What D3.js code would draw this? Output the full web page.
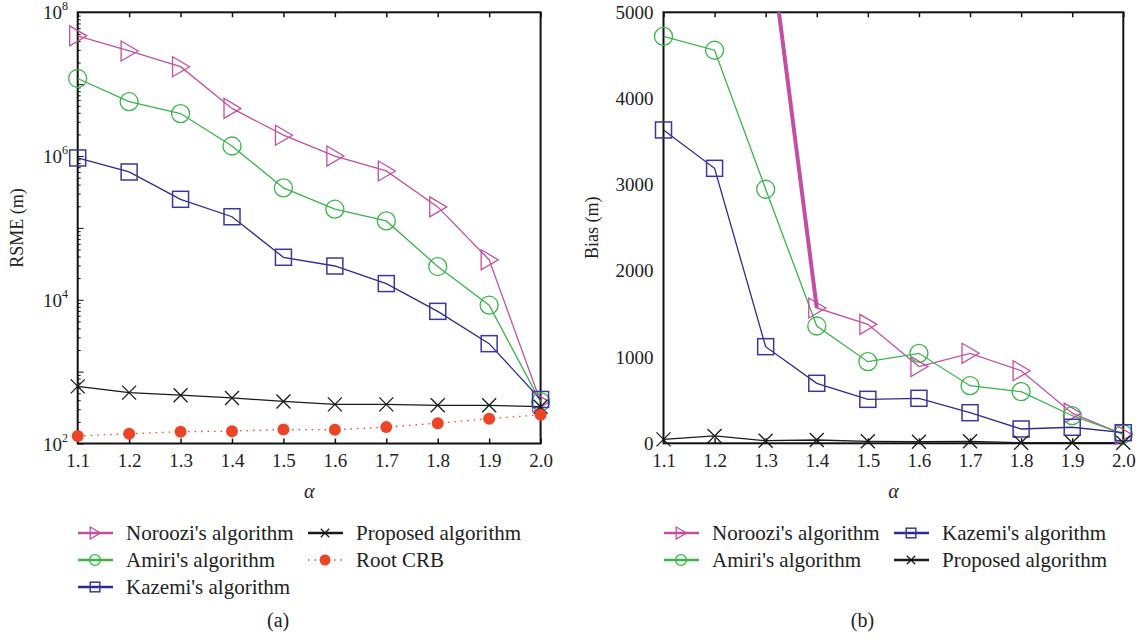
<!DOCTYPE html>
<html>
<head>
<meta charset="utf-8">
<script src="https://cdn.jsdelivr.net/npm/d3@7"></script>
<style>
  body { margin: 0; background: #fff; }
  svg { font-family: "Liberation Serif", "DejaVu Serif", serif; }
</style>
</head>
<body>
<svg id="chart" width="1143" height="641"></svg>
<script>
// alpha values on the x axis
var alphas = [1.1, 1.2, 1.3, 1.4, 1.5, 1.6, 1.7, 1.8, 1.9, 2.0];
var xTickLabels = ["1.1", "1.2", "1.3", "1.4", "1.5", "1.6", "1.7", "1.8", "1.9", "2.0"];

// (a) RSME (m), log scale
var rsmeNoroozi = [4.7e7, 2.9e7, 1.75e7, 4.6e6, 1.95e6, 1.0e6, 6.2e5, 1.96e5, 3.6e4, 380];
var rsmeAmiri = [1.2e7, 5.7e6, 3.9e6, 1.38e6, 3.6e5, 1.82e5, 1.25e5, 2.9e4, 8.4e3, 380];
var rsmeKazemi = [9.4e5, 6.0e5, 2.5e5, 1.43e5, 3.9e4, 2.95e4, 1.68e4, 6.9e3, 2.45e3, 410];
var rsmeProposed = [624, 510, 470, 430, 385, 350, 350, 340, 340, 325];
var rootCRB = [127, 137, 146, 148, 157, 155, 169, 192, 221, 251];
var rsmeTickValues = [1e2, 1e4, 1e6, 1e8];
var rsmeTickExps = ["2", "4", "6", "8"];

// (b) Bias (m)
var biasNoroozi = [8500, 7400, 6200, 1570, 1380, 890, 1044, 842, 350, 100];
var biasAmiri = [4720, 4560, 2947, 1361, 947, 1044, 668, 599, 320, 108];
var biasKazemi = [3635, 3190, 1121, 696, 510, 522, 355, 166, 186, 123];
var biasProposed = [46, 85, 30, 38, 23, 18, 23, 7, 7, 7];
var biasTickValues = [0, 1000, 2000, 3000, 4000, 5000];

var colors = { noroozi: "#c24fa3", amiri: "#39b54a", kazemi: "#2f2b8e", proposed: "#1a1a1a", crb: "#ec4427" };

var svg = d3.select("#chart");

var symTri = d3.symbol().type({
  draw: function (ctx, size) {
    ctx.moveTo(-8, -10); ctx.lineTo(9, 0); ctx.lineTo(-8, 10); ctx.closePath();
  }
});
var symX = d3.symbol().type({
  draw: function (ctx, size) {
    ctx.moveTo(-7, -7); ctx.lineTo(7, 7); ctx.moveTo(-7, 7); ctx.lineTo(7, -7);
  }
});

function drawMarker(g, kind, px, py, small) {
  var k = small ? 0.6 : 1;
  if (kind === "tri") {
    g.append("path").attr("d", symTri()).attr("transform", "translate(" + px + "," + py + ") scale(" + k + ")")
      .attr("fill", "none").attr("stroke", colors.noroozi).attr("stroke-width", 1.3 / k);
  } else if (kind === "circle") {
    g.append("circle").attr("cx", px).attr("cy", py).attr("r", 9 * k)
      .attr("fill", "none").attr("stroke", colors.amiri).attr("stroke-width", 1.3);
  } else if (kind === "square") {
    var s = 16 * k;
    g.append("rect").attr("x", px - s / 2).attr("y", py - s / 2).attr("width", s).attr("height", s)
      .attr("fill", "none").attr("stroke", "#3b37a0").attr("stroke-width", 1.5);
  } else if (kind === "x") {
    g.append("path").attr("d", symX()).attr("transform", "translate(" + px + "," + py + ") scale(" + k + ")")
      .attr("fill", "none").attr("stroke", colors.proposed).attr("stroke-width", 1.3 / k);
  } else if (kind === "dot") {
    g.append("circle").attr("cx", px).attr("cy", py).attr("r", small ? 5.5 : 6)
      .attr("fill", colors.crb);
  }
}

function drawPanel(cfg) {
  var g = svg.append("g");
  var x = d3.scaleLinear().domain([1.1, 2.0]).range([cfg.left, cfg.right]);
  var y = cfg.y;

  var clipId = "clip-" + cfg.id;
  svg.append("clipPath").attr("id", clipId).append("rect")
    .attr("x", cfg.left).attr("y", cfg.top).attr("width", cfg.right - cfg.left).attr("height", cfg.bottom - cfg.top);

  // frame
  g.append("rect").attr("x", cfg.left).attr("y", cfg.top)
    .attr("width", cfg.right - cfg.left).attr("height", cfg.bottom - cfg.top)
    .attr("fill", "none").attr("stroke", "#111").attr("stroke-width", 2);

  // bottom axis, inward ticks
  var xAxis = g.append("g").attr("transform", "translate(0," + cfg.bottom + ")")
    .call(d3.axisBottom(x).tickValues(alphas).tickSize(-5).tickPadding(10)
      .tickFormat(function (d, i) { return xTickLabels[i]; }));
  xAxis.select(".domain").remove();
  xAxis.selectAll("line").attr("stroke", "#111").attr("stroke-width", 1.5);
  xAxis.selectAll("text").attr("font-size", 19).attr("fill", "#222").attr("font-family", "Liberation Serif");

  // top ticks
  var topAxis = g.append("g").attr("transform", "translate(0," + cfg.top + ")")
    .call(d3.axisTop(x).tickValues(alphas).tickSize(-5).tickFormat(""));
  topAxis.select(".domain").remove();
  topAxis.selectAll("line").attr("stroke", "#111").attr("stroke-width", 1.5);

  cfg.yAxis(g, x, y);

  var lines = g.append("g").attr("clip-path", "url(#" + clipId + ")");
  var line = d3.line().x(function (d, i) { return x(alphas[i]); }).y(function (d) { return y(d); });

  cfg.series.forEach(function (s) {
    lines.append("path").attr("d", line(s.values)).attr("fill", "none")
      .attr("stroke", s.color).attr("stroke-width", 1.3)
      .attr("stroke-dasharray", s.dash || null);
    if (s.thick) {
      lines.append("path").attr("d", line(s.values.slice(0, s.thick))).attr("fill", "none")
        .attr("stroke", s.color).attr("stroke-width", 4);
    }
  });
  var marks = g.append("g");
  cfg.series.forEach(function (s) {
    s.values.forEach(function (v, i) {
      var py = y(v);
      if (py < cfg.top - 1) return;
      drawMarker(marks, s.marker, x(alphas[i]), py, false);
    });
  });

  // axis titles
  g.append("text").attr("transform", "translate(" + cfg.yTitleX + "," + ((cfg.top + cfg.bottom) / 2) + ") rotate(-90)")
    .attr("text-anchor", "middle").attr("font-size", 18).attr("fill", "#222").text(cfg.yTitle);
  g.append("text").attr("x", (cfg.left + cfg.right) / 2).attr("y", 498)
    .attr("text-anchor", "middle").attr("font-size", 20).attr("font-style", "italic").attr("fill", "#222").text("α");

  // legend
  cfg.legend.forEach(function (item) {
    var lg = svg.append("g");
    lg.append("line").attr("x1", item.x).attr("x2", item.x + 35).attr("y1", item.y).attr("y2", item.y)
      .attr("stroke", item.s.color).attr("stroke-width", item.s.dash ? 1.3 : 2.6)
      .attr("stroke-dasharray", item.s.dash || null);
    drawMarker(lg, item.s.marker, item.x + 17, item.y, true);
    lg.append("text").attr("x", item.x + 48).attr("y", item.y + 7).attr("font-size", 21).attr("fill", "#222").text(item.s.name);
  });

  svg.append("text").attr("x", (cfg.left + cfg.right) / 2 - 31).attr("y", 627)
    .attr("text-anchor", "middle").attr("font-size", 20).attr("fill", "#222").text(cfg.caption);
}

var sNoroozi = { name: "Noroozi's algorithm", color: colors.noroozi, marker: "tri" };
var sAmiri = { name: "Amiri's algorithm", color: colors.amiri, marker: "circle" };
var sKazemi = { name: "Kazemi's algorithm", color: colors.kazemi, marker: "square" };
var sProposed = { name: "Proposed algorithm", color: colors.proposed, marker: "x" };
var sCRB = { name: "Root CRB", color: colors.crb, marker: "dot", dash: "1.5,5" };

// (a)
var yLog = d3.scaleLog().domain([1e2, 1e8]).range([443.5, 12.3]);
drawPanel({
  id: "a", left: 77.7, right: 540.6, top: 12.3, bottom: 443.5, y: yLog,
  yTitle: "RSME (m)", yTitleX: 23, caption: "(a)",
  yAxis: function (g, x, y) {
    var minor = [];
    for (var e = 2; e < 8; e++) for (var m = 1; m < 10; m++) minor.push(m * Math.pow(10, e));
    var ax = g.append("g").attr("transform", "translate(77.7,0)")
      .call(d3.axisRight(y).tickValues(minor).tickSize(3).tickFormat(""));
    ax.select(".domain").remove();
    ax.selectAll("line").attr("stroke", "#111").attr("stroke-width", 1)
      .attr("x2", function (d) { return Math.abs(Math.log10(d) % 1) < 1e-9 ? 6 : 3; });
    var lab = g.append("g");
    rsmeTickValues.forEach(function (v, i) {
      var t = lab.append("text").attr("x", 68).attr("y", y(v) + 7).attr("text-anchor", "end")
        .attr("font-size", 19).attr("fill", "#222");
      t.append("tspan").text("10");
      t.append("tspan").attr("font-size", 12).attr("dy", -9).text(rsmeTickExps[i]);
    });
  },
  series: [
    Object.assign({ values: rsmeNoroozi }, sNoroozi),
    Object.assign({ values: rsmeAmiri }, sAmiri),
    Object.assign({ values: rsmeKazemi }, sKazemi),
    Object.assign({ values: rsmeProposed }, sProposed),
    Object.assign({ values: rootCRB }, sCRB)
  ],
  legend: [
    { x: 78, y: 533, s: sNoroozi },
    { x: 78, y: 560, s: sAmiri },
    { x: 78, y: 587, s: sKazemi },
    { x: 308, y: 533, s: sProposed },
    { x: 308, y: 560, s: sCRB }
  ]
});

// (b)
var yLin = d3.scaleLinear().domain([0, 5000]).range([443.3, 12.3]);
drawPanel({
  id: "b", left: 663.5, right: 1123.3, top: 12.3, bottom: 443.3, y: yLin,
  yTitle: "Bias (m)", yTitleX: 598, caption: "(b)",
  yAxis: function (g, x, y) {
    var ax = g.append("g").attr("transform", "translate(663.5,0)")
      .call(d3.axisLeft(y).tickValues(biasTickValues).tickSize(0).tickPadding(10).tickFormat(d3.format("d")));
    ax.select(".domain").remove();
    ax.selectAll("text").attr("font-size", 19).attr("fill", "#222").attr("font-family", "Liberation Serif");
  },
  series: [
    Object.assign({ values: biasNoroozi, thick: 4 }, sNoroozi),
    Object.assign({ values: biasAmiri }, sAmiri),
    Object.assign({ values: biasKazemi }, sKazemi),
    Object.assign({ values: biasProposed }, sProposed)
  ],
  legend: [
    { x: 664, y: 533, s: sNoroozi },
    { x: 664, y: 560, s: sAmiri },
    { x: 894, y: 533, s: sKazemi },
    { x: 894, y: 560, s: sProposed }
  ]
});
</script>
</body>
</html>
